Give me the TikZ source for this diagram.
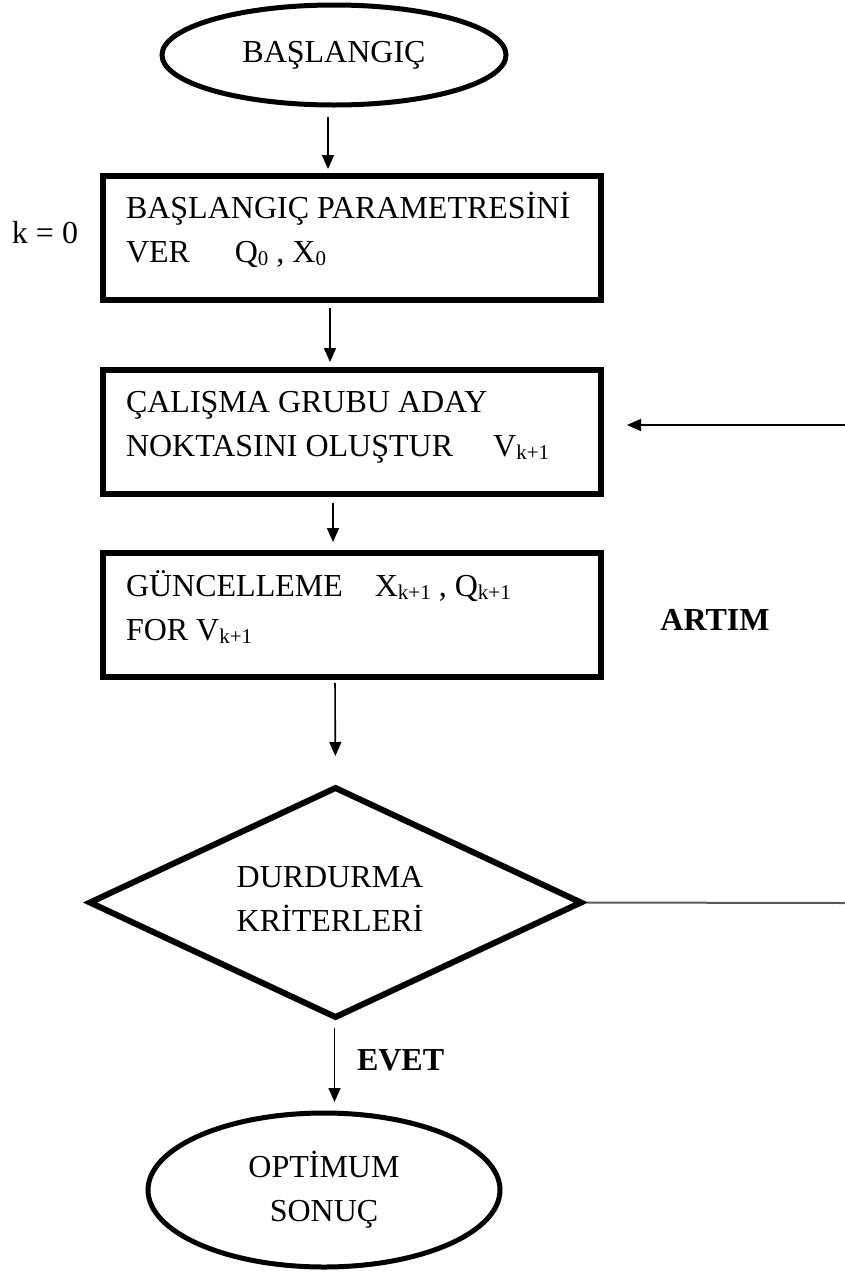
\documentclass[tikz,border=0pt]{standalone}
\usepackage{fontspec}
\setmainfont{Liberation Serif}
\usetikzlibrary{shapes.geometric,arrows.meta}
\newcommand\myidx[1]{\raisebox{-0.12em}{\fontsize{21}{21}\selectfont #1}}
\begin{document}
\begin{tikzpicture}[x=1pt,y=-1pt,
  every node/.style={font=\fontsize{32}{44}\selectfont, inner sep=0pt, outer sep=0pt},
  term/.style={ellipse, draw, line width=5pt, align=center},
  procbox/.style={rectangle, draw, line width=6pt, minimum width=498pt, minimum height=124pt},
  decision/.style={diamond, draw, line width=6pt, minimum width=491pt, minimum height=229pt},
  txt/.style={anchor=base west},
  lbl/.style={font=\fontsize{32}{44}\selectfont\bfseries},
  arr/.style={-{Triangle[length=14pt,width=12pt]}, line width=1.6pt},
  greyline/.style={line width=2pt, draw=black!65}
]
\useasboundingbox (0,0) rectangle (845,1272);
\fill[white] (0,0) rectangle (845,1272);

% shapes
\node[term, minimum width=344pt, minimum height=100pt] (start) at (334,55) {BAŞLANGIÇ};
\node[procbox] (b1) at (352,238) {};
\node[procbox] (b2) at (352,432) {};
\node[procbox] (b3) at (352,615) {};
\node[decision] (crit) at (335.5,902.5) {};
\node[term, minimum width=352pt, minimum height=154pt] (stop) at (324,1190) {OPTİMUM\\SONUÇ};

% texts
\node[align=center] (crittxt) at (330,898.5) {DURDURMA\\KRİTERLERİ};
\node[txt] (k0) at (12,243) {k = 0};
\node[txt] (b1a) at (126,218) {BAŞLANGIÇ PARAMETRESİNİ};
\node[txt] (b1b) at (126,262) {VER\hspace{1.4em}Q\myidx{0} , X\myidx{0}};
\node[txt] (b2a) at (126,412) {ÇALIŞMA GRUBU ADAY};
\node[txt] (b2b) at (126,456) {NOKTASINI OLUŞTUR\hspace{1.25em}V\myidx{k+1}};
\node[txt] (b3a) at (126,596) {GÜNCELLEME\hspace{1em}X\myidx{k+1} , Q\myidx{k+1}};
\node[txt] (b3b) at (126,640) {FOR V\myidx{k+1}};
\node[lbl, anchor=base] (artim) at (715,630) {ARTIM};
\node[lbl, anchor=base west] (evet) at (357,1070) {EVET};

% free ends at the right border
\coordinate (fbTop) at (845,425);
\coordinate (fbBot) at (845,903);

% connectors
\draw[arr, shorten <=12pt, shorten >=7pt] ([xshift=-6pt]start.south) -- ([xshift=-6pt]start.south |- b1.north);
\draw[arr, shorten <=8pt, shorten >=8pt] ([xshift=-22pt]b1.south) -- ([xshift=-22pt]b2.north);
\draw[arr, shorten <=9pt, shorten >=11pt] ([xshift=-19pt]b2.south) -- ([xshift=-19pt]b3.north);
\draw[arr, shorten <=6pt, shorten >=32pt] ([xshift=-17pt]b3.south) -- (crit.north);
\draw[arr, shorten <=11pt, shorten >=11pt] ([xshift=-1pt]crit.south) -- ([xshift=-1pt]crit.south |- stop.north);
\draw[arr, shorten >=26pt] (fbTop) -- (b2.east |- fbTop);
\draw[greyline, shorten <=6pt] (crit.east) -- (fbBot);
\end{tikzpicture}
\end{document}
